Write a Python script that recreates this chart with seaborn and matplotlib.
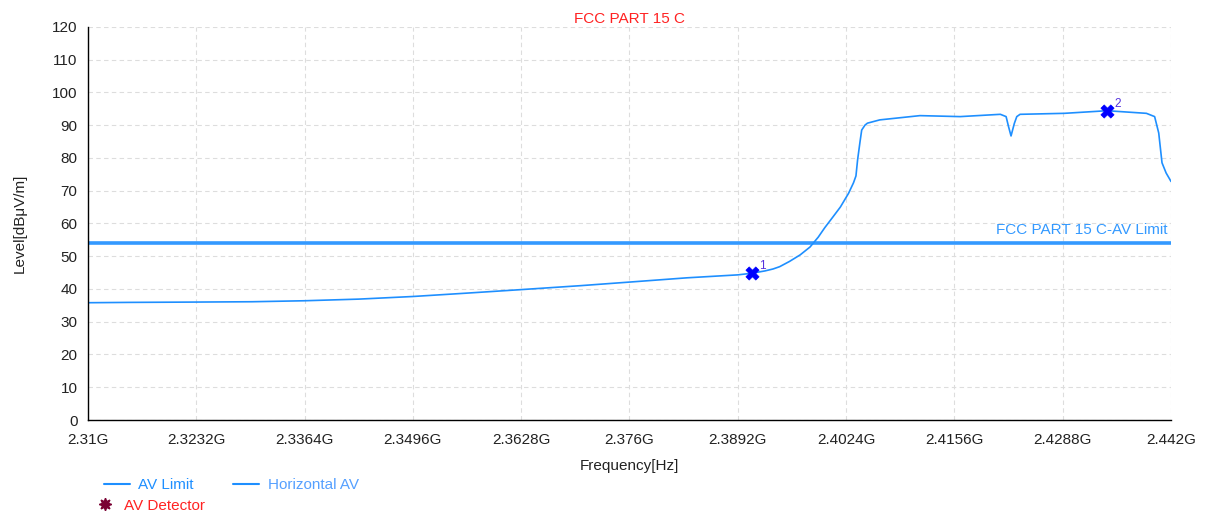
import numpy as np
import pandas as pd
import matplotlib
matplotlib.use("Agg")
import matplotlib.pyplot as plt
from matplotlib.lines import Line2D
import seaborn as sns

# ---- data (GHz, dBuV/m) ----
freq_ghz = [2.3100, 2.3150, 2.3232, 2.3300, 2.3364, 2.3430, 2.3496, 2.3560, 2.3628,
            2.3700, 2.3760, 2.3830, 2.3892, 2.3909, 2.3925, 2.3935, 2.3943, 2.3955,
            2.3968, 2.3980, 2.3990, 2.3998, 2.4008, 2.4017, 2.4027, 2.4033, 2.4036,
            2.4038, 2.4041, 2.4043, 2.4047, 2.4050, 2.4065, 2.4114,
            2.4163, 2.4212, 2.4219, 2.4222, 2.4225, 2.4229, 2.4232, 2.4236, 2.4290,
            2.4342, 2.4390, 2.4400, 2.4405, 2.4409, 2.4414, 2.4420]
level_dbuv = [35.8, 35.9, 36.0, 36.1, 36.4, 36.9, 37.7, 38.7, 39.8,
              41.0, 42.1, 43.4, 44.3, 44.8, 45.5, 46.1, 46.8, 48.4,
              50.4, 52.8, 55.8, 58.7, 62.0, 65.0, 69.2, 72.4, 74.5,
              79.4, 85.0, 88.5, 90.0, 90.6, 91.6, 92.9,
              92.6, 93.3, 92.6, 89.5, 86.7, 90.5, 92.6, 93.3, 93.6,
              94.4, 93.6, 92.6, 87.6, 78.5, 75.4, 72.8]
limit_value = 54.0
marker_freq = [2.3909, 2.4342]
marker_level = [44.8, 94.4]
marker_ids = ["1", "2"]

x_ticks = [2.31, 2.3232, 2.3364, 2.3496, 2.3628, 2.376, 2.3892, 2.4024, 2.4156, 2.4288, 2.442]
x_tick_labels = ["2.31G", "2.3232G", "2.3364G", "2.3496G", "2.3628G", "2.376G",
                 "2.3892G", "2.4024G", "2.4156G", "2.4288G", "2.442G"]
y_ticks = list(range(0, 121, 10))

trace = pd.DataFrame({"freq": freq_ghz, "level": level_dbuv})
limit_df = pd.DataFrame({"freq": [x_ticks[0], x_ticks[-1]], "level": [limit_value, limit_value]})
marks = pd.DataFrame({"freq": marker_freq, "level": marker_level})

sns.set_theme(style="white")
plt.rcParams["font.family"] = ["Liberation Sans", "DejaVu Sans"]

fig = plt.figure(figsize=(12.08, 5.16), dpi=100)
ax = fig.add_axes([0.0728, 0.186, 0.8966, 0.762])

trace_color = "#1E8FFF"
limit_color = "#3399FF"

sns.lineplot(data=limit_df, x="freq", y="level", ax=ax, color=limit_color, linewidth=2.6)
sns.lineplot(data=trace, x="freq", y="level", ax=ax, color=trace_color, linewidth=1.2, sort=False)
sns.scatterplot(data=marks, x="freq", y="level", ax=ax, marker="X", s=90, color="#0000FF",
                edgecolor="#0000FF", linewidth=0.5, zorder=5)
for f, l, t in zip(marker_freq, marker_level, marker_ids):
    ax.annotate(t, (f, l), xytext=(5, 3), textcoords="offset points", color="#5533DD", fontsize=8.5)

ax.text(x_ticks[-1] - 0.0004, limit_value + 1.8, "FCC PART 15 C-AV Limit", color=limit_color,
        ha="right", va="bottom", fontsize=11)

ax.set_xlim(x_ticks[0], x_ticks[-1])
ax.set_ylim(0, 120)
ax.set_xticks(x_ticks)
ax.set_xticklabels(x_tick_labels)
ax.set_yticks(y_ticks)
ax.tick_params(axis="both", direction="inout", length=8, width=1, colors="black",
               labelsize=11, labelcolor="#222222")
ax.tick_params(axis="x", pad=5)
ax.grid(True, linestyle=(0, (4, 3)), color="#DDDDDD", linewidth=0.8)
for s in ["top", "right"]:
    ax.spines[s].set_visible(False)
for s in ["left", "bottom"]:
    ax.spines[s].set_color("black")
    ax.spines[s].set_linewidth(1.0)

ax.set_xlabel("Frequency[Hz]", fontsize=11, color="#222222", labelpad=9)
ax.set_ylabel("Level[dBμV/m]", fontsize=11, color="#222222", labelpad=18)
ax.set_title("FCC PART 15 C", color="#FF2222", fontsize=11, pad=3)

# legend row 1: line series
line_handles = [Line2D([], [], color=trace_color, linewidth=1.5),
                Line2D([], [], color=trace_color, linewidth=1.5)]
line_labels = ["AV Limit", "Horizontal AV"]
leg1 = fig.legend(line_handles, line_labels, loc="lower left", bbox_to_anchor=(0.0745, 0.02),
                  ncol=2, frameon=False, fontsize=11, handlelength=1.7, columnspacing=2.6,
                  handletextpad=0.55)
for txt, c in zip(leg1.get_texts(), ["#1E8FFF", "#55A0FF"]):
    txt.set_color(c)

# legend row 2: detector marker
det_handles = [Line2D([], [], linestyle="none", marker=(8, 1, 0), color="#7A0033", markersize=9)]
leg2 = fig.legend(det_handles, ["AV Detector"], loc="lower left", bbox_to_anchor=(0.069, -0.02),
                  frameon=False, fontsize=11, handlelength=1.0, handletextpad=0.75)
leg2.get_texts()[0].set_color("#FF2222")

fig.savefig("out.png", dpi=100)
